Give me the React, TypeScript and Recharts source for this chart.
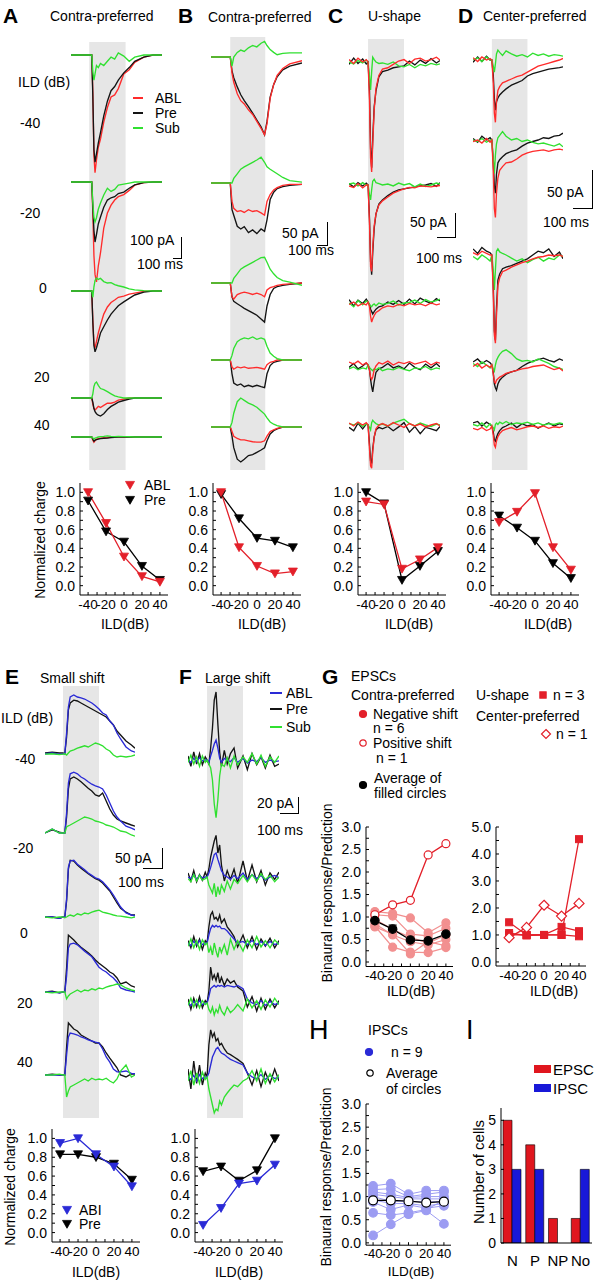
import React from "react";
import { LineChart, Line, XAxis, YAxis, ReferenceArea, ErrorBar, BarChart, Bar } from "recharts";

const FONT = '"Liberation Sans", Arial, Helvetica, sans-serif';
const TR_RED = "#ff2b2b";
const TR_GREEN = "#30e030";
const TR_BLACK = "#141414";
const TR_BLUE = "#2a2ad6";
const RED = "#e3202a";
const PINK = "#f29090";
const LBLUE = "#9c9cf2";
const BAND = "#e6e6e6";

// ---------- trace data (pA, baseline 0; stimulus window = 0..100 ms) ----------
const T_A = [-50, -25, 0, 7, 10, 13, 16, 20, 25, 31, 40, 50, 60, 70, 80, 95, 110, 125, 150, 175, 200];
const A_PRE = [
  [0, 0, 0, 0, -200, -450, -510, -470, -420, -370, -290, -220, -170, -150, -120, -85, -60, -30, -10, 0, 0],
  [0, 0, 0, 0, -120, -230, -286, -250, -200, -167, -120, -86, -75, -70, -55, -48, -30, -14, -3, 0, 0],
  [0, 0, 0, 0, -150, -260, -290, -270, -240, -200, -170, -138, -110, -90, -70, -52, -35, -19, -5, 0, 0],
  [0, 0, 0, 0, -20, -50, -65, -75, -82, -86, -75, -55, -40, -30, -20, -12, -5, 0, 0, 0, 0],
  [0, 0, 0, 0, -10, -20, -15, -12, -10, -8, -6, -5, -3, -2, 0, 0, 0, 0, 0, 0, 0],
];
const A_ABL = [
  [0, 0, 0, 0, -180, -480, -560, -500, -440, -400, -320, -250, -200, -190, -160, -90, -70, -35, -10, 0, 0],
  [0, 0, 0, 0, -150, -350, -440, -476, -400, -338, -220, -148, -110, -86, -70, -60, -40, -15, -3, 0, 0],
  [0, 0, 0, 0, -140, -250, -271, -240, -200, -162, -110, -76, -55, -43, -30, -24, -15, -10, -2, 0, 0],
  [0, 0, 0, 0, -30, -50, -57, -50, -40, -45, -35, -25, -25, -20, -10, -5, 0, 0, 0, 0, 0],
  [0, 0, 0, 0, -15, -25, -18, -10, -8, -5, -4, -3, 0, 0, 0, 0, 0, 0, 0, 0, 0],
];
const A_SUB = [
  [0, 0, 0, 0, -80, -120, -90, -50, -60, -40, -50, -30, -10, -20, 10, -5, -30, -10, 0, 0, 0],
  [0, 0, 0, 0, -100, -170, -190, -170, -130, -100, -62, -30, -45, -35, -15, -10, -5, 0, 0, 0, 0],
  [0, 0, 0, 0, -30, 20, 50, 62, 55, 60, 45, 38, 40, 30, 25, 19, 10, 5, 2, 0, 0],
  [0, 0, 0, 0, 20, 55, 70, 76, 60, 45, 40, 30, 20, 10, 5, 0, 0, 0, 0, 0, 0],
  [0, 0, 0, 0, -5, -10, -5, -3, 0, 2, 3, 5, 3, 2, 3, 2, 1, 0, 0, 0, 0],
];

const T_B = [-55, -25, 0, 5, 10, 20, 30, 40, 52, 64, 76, 88, 98, 105, 114, 124, 134, 150, 170, 205];
const B_PRE = [
  [0, 0, 0, -30, -45, -65, -82, -95, -108, -122, -137, -152, -169, -140, -87, -60, -43, -28, -20, -13],
  [0, 0, 0, -58, -70, -94, -100, -95, -108, -102, -110, -100, -105, -80, -36, -20, -12, -8, -5, -3],
  [0, 0, 0, -30, -40, -45, -50, -55, -60, -65, -70, -78, -85, -50, -25, -12, -8, -5, -3, 0],
  [0, 0, 0, -30, -50, -55, -52, -58, -55, -58, -55, -58, -60, -30, -12, -5, -3, 0, 0, 0],
  [0, 0, 0, -20, -45, -70, -76, -70, -62, -60, -55, -50, -45, -30, -15, -8, -4, 0, 0, 0],
];
const B_ABL = [
  [0, 0, 0, -35, -55, -80, -95, -102, -115, -125, -140, -155, -169, -145, -90, -60, -40, -25, -15, -8],
  [0, 0, 0, -40, -55, -62, -60, -64, -58, -62, -60, -65, -70, -40, -25, -15, -10, -5, -3, -3],
  [0, 0, 0, -30, -35, -25, -22, -20, -22, -25, -22, -25, -30, -15, -10, -8, -5, -3, -2, 0],
  [0, 0, 0, -15, -20, -15, -17, -15, -18, -17, -16, -18, -20, -10, -5, -3, 0, 0, 0, 0],
  [0, 0, 0, -10, -20, -25, -28, -28, -30, -32, -33, -33, -30, -20, -10, -6, -3, 0, 0, 0],
];
const B_SUB = [
  [0, 0, 0, -20, 0, 10, 15, 12, 20, 25, 22, 30, 34, 25, 16, 10, 5, 8, 9, 9],
  [0, 0, 0, 0, 10, 20, 30, 35, 40, 45, 50, 56, 45, 35, 30, 25, 20, 12, 5, 2],
  [0, 0, 0, 0, 10, 20, 30, 35, 40, 45, 50, 55, 56, 45, 30, 20, 12, 5, 2, -5],
  [0, 0, 0, 10, 25, 40, 45, 48, 46, 50, 45, 48, 45, 30, 15, 8, 3, 0, 0, 0],
  [0, 0, 0, 10, 30, 55, 63, 58, 52, 48, 43, 35, 28, 20, 11, 6, 3, 0, 0, 0],
];

const T_CD = [-53, -40, -28, -15, -5, 0, 4, 7, 10, 13, 17, 22, 30, 40, 55, 70, 85, 100, 115, 130, 145, 160, 175, 190, 200];
const C_PRE = [
  [-5, 8, -3, 6, -4, 0, -60, -180, -220, -160, -94, -60, -31, -20, -17, -12, -10, -8, 2, -6, 4, -3, 7, -2, 3],
  [3, -4, 5, -2, 4, 0, -70, -160, -187, -140, -90, -60, -40, -31, -22, -15, -10, -8, -6, -4, -2, 0, 3, -3, 5],
  [5, -8, 4, -3, 6, 0, -5, -15, -20, -25, -20, -15, -10, -8, 0, -5, 3, -5, 6, -4, 8, 2, -3, 7, 2],
  [-5, 3, -8, -2, 4, 0, -10, -30, -45, -56, -35, -15, -8, -5, 3, -6, -2, -8, 4, -5, -10, 2, -6, 3, -4],
  [-5, -12, 4, -8, 2, 0, -40, -75, -80, -50, -25, -10, -5, -8, -3, -12, -4, 5, -15, -3, -18, -5, -8, -12, -3],
];
const C_ABL = [
  [5, -3, 8, 0, 5, 0, -80, -200, -229, -170, -100, -55, -28, -15, -12, -5, 2, 5, -3, 6, 8, 2, 5, 10, 4],
  [-2, -5, 3, -6, 0, 0, -80, -170, -180, -130, -85, -60, -42, -33, -25, -17, -12, -8, -5, -6, -2, -3, -4, -2, -1],
  [-5, 0, -8, -3, -6, 0, -10, -30, -42, -35, -28, -22, -18, -12, -8, -10, -5, -8, -3, -6, -4, -8, -2, -6, -4],
  [6, 2, 8, 0, 5, 0, -10, -25, -30, -25, -10, -2, 5, 2, 8, 0, 6, 3, 7, 2, 5, 8, 0, 6, 4],
  [4, -2, 6, 0, 5, 0, -50, -85, -90, -55, -25, -8, 0, 3, -2, 5, 0, -5, 3, -2, 2, -4, 0, 3, -2],
];
const C_SUB = [
  [0, -4, 3, -2, 4, 0, -30, -58, -20, 10, 5, 0, -3, -2, -5, 0, -8, -10, -5, -12, -5, -8, -3, -6, -4],
  [2, 4, -2, 5, 0, 0, -20, -31, -10, 8, 12, 5, 3, 0, 2, -2, 4, 0, 3, -4, 2, -3, 0, 4, 2],
  [-2, -10, 3, -6, 2, 0, -5, -8, -10, -6, -4, -8, -2, -5, -3, 2, -6, -2, -1, 4, -3, 5, 0, 3, 6],
  [-8, -4, -10, -6, -8, 0, -5, -8, -10, -12, -8, -10, -6, -12, -8, -10, -5, -9, -12, -6, -8, -3, -10, -6, -8],
  [3, 0, 5, -3, 2, 0, -5, -10, 5, 10, 6, 3, 0, 2, -2, 4, 8, 12, 3, -2, 4, 0, -3, 2, 0],
];
const D_PRE = [
  [-3, 4, -2, 5, 0, 0, -20, -50, -66, -55, -50, -46, -42, -38, -33, -30, -27, -21, -18, -16, -14, -12, -11, -10, -9],
  [2, -3, 5, 0, 3, 0, -30, -60, -70, -45, -30, -26, -22, -18, -15, -13, -8, -4, -2, 0, 3, 2, 5, 6, 9],
  [8, 2, 10, 5, 3, 0, -40, -100, -112, -70, -33, -25, -18, -16, -14, -11, -8, -5, 0, 5, 3, 8, -2, 4, -5],
  [4, 8, 2, 6, 3, 0, -10, -25, -30, -33, -25, -20, -16, -12, -9, -7, -2, 2, 5, 7, 9, 6, 4, 8, 6],
  [4, 6, 0, 5, 2, 0, -8, -18, -20, -15, -10, -6, -2, 0, 4, -2, 3, 0, 2, -3, 1, 4, 0, 3, 2],
];
const D_ABL = [
  [3, -2, 4, 0, 2, 0, -30, -70, -82, -55, -40, -35, -30, -28, -25, -22, -20, -16, -12, -8, -6, -4, -2, 0, 2],
  [-2, 0, -4, 2, -3, 0, -40, -90, -102, -70, -50, -40, -35, -30, -29, -25, -20, -17, -15, -14, -13, -15, -13, -12, -13],
  [3, 0, 5, 2, 0, 0, -50, -105, -116, -80, -40, -30, -22, -20, -16, -13, -10, -8, -5, -3, -2, 0, -1, 0, -2],
  [-2, 2, -4, 0, -3, 0, -12, -22, -24, -20, -18, -16, -14, -11, -9, -7, -5, -4, -2, -1, 0, -3, -6, -4, -8],
  [-3, -5, -2, -6, -4, 0, -12, -25, -28, -20, -14, -10, -6, -4, -2, -5, -3, -1, 0, -2, 0, -3, -1, -2, 0],
];
const D_SUB = [
  [0, 3, -2, 4, 0, 0, -8, -16, -5, 8, 13, 10, 6, 12, 8, 5, 7, 4, 9, 6, 8, 5, 7, 6, 5],
  [0, -2, 2, -3, 0, 0, -25, -44, -20, -5, 3, 6, 11, 5, 0, 2, -2, 0, -3, -5, -4, -6, -8, -5, -9],
  [-2, -6, 0, -4, -8, 0, -20, -46, -20, 5, 8, 4, 2, 0, -4, -8, -5, -10, -6, -3, -8, -4, -6, 0, -2],
  [2, -2, 4, 0, -4, 0, -5, -8, 0, 6, 10, 14, 18, 20, 15, 8, 5, 6, 4, 8, 5, 2, -2, -4, -6],
  [2, 0, 4, -2, 3, 0, -2, -5, 2, 4, 2, 5, 3, 6, 2, 4, 3, 5, 2, 4, 1, 3, 2, 4, 3],
];

const T_E = [-50, -30, -10, 0, 5, 10, 15, 20, 30, 40, 50, 60, 70, 80, 90, 100, 110, 120, 130, 140, 150, 160, 175, 190, 200];
const E_PRE = [
  [0, 2, 0, 0, -2, 40, 108, 125, 132, 130, 125, 120, 115, 110, 105, 100, 95, 90, 80, 70, 55, 45, 30, 20, 12],
  [0, 8, 2, 0, 0, 40, 110, 135, 140, 135, 128, 120, 112, 105, 95, 92, 100, 80, 60, 45, 35, 30, 25, 20, 17],
  [0, 0, -3, 0, 0, 40, 120, 142, 140, 130, 122, 115, 108, 102, 96, 92, 85, 75, 65, 50, 35, 22, 12, 5, 5],
  [0, 2, -2, 0, 0, 60, 142, 138, 130, 120, 112, 105, 98, 90, 80, 72, 65, 58, 50, 45, 35, 20, 25, 15, 12],
  [0, 2, 0, 0, 0, 70, 130, 125, 115, 110, 100, 95, 90, 85, 80, 80, 70, 55, 42, 30, 18, 0, -5, 3, 2],
];
const E_ABL = [
  [-2, 0, -3, -2, -2, 50, 115, 140, 145, 140, 138, 135, 130, 125, 118, 110, 100, 95, 80, 70, 50, 35, 15, 5, 2],
  [0, 10, 0, 0, 0, 50, 125, 148, 152, 148, 140, 135, 128, 122, 118, 115, 110, 95, 75, 55, 40, 30, 17, 12, 8],
  [0, 0, -3, 0, 0, 45, 125, 140, 142, 132, 125, 118, 110, 104, 98, 95, 88, 78, 68, 55, 40, 25, 10, 5, 3],
  [0, 0, -2, 0, 0, 40, 110, 120, 122, 118, 110, 102, 95, 88, 75, 62, 55, 50, 42, 35, 25, 10, 5, 2, 0],
  [0, 0, 0, 0, 0, 50, 95, 105, 103, 100, 95, 92, 88, 85, 82, 80, 65, 45, 32, 15, 8, 8, 10, 4, 3],
];
const E_SUB = [
  [-3, -2, -4, -3, -2, -5, 0, 5, 8, 12, 15, 18, 15, 20, 25, 22, 18, 10, 5, -5, -10, -8, -10, -8, -5],
  [0, 10, 0, 0, 0, 15, 18, 20, 25, 30, 35, 40, 38, 35, 30, 28, 25, 20, 18, 15, 10, 5, 2, -5, -8],
  [0, -2, 0, 0, -2, 0, 3, 5, 2, 8, 5, 10, 8, 12, 15, 17, 12, 10, 8, 5, 3, 2, 0, -2, 0],
  [0, -2, 0, 0, 0, -17, -10, -5, 0, 5, 0, 5, 3, 8, 5, 10, 8, 12, 15, 17, 20, 18, 10, 5, 3],
  [0, 0, 2, 0, 0, -55, -40, -30, -25, -20, -15, -10, -15, -8, -12, -10, -12, -8, -15, -20, -10, 10, 25, -5, 0],
];

const T_F = [-53, -45, -37, -29, -21, -13, -5, 0, 5, 10, 15, 20, 25, 30, 35, 40, 48, 56, 65, 75, 85, 100, 112, 125, 138, 150, 162, 175, 188, 200];
const F_PRE = [
  [5, -8, 10, -5, 8, -6, 4, 0, -5, 15, 40, 75, 85, 45, 10, -8, 12, -5, 8, 15, -10, 5, -12, 8, -6, 4, -10, 6, -8, -5],
  [5, -5, 8, -6, 3, -4, 6, 0, 10, 25, 35, 45, 52, 30, 40, 15, -5, 8, -3, 10, -8, 20, -5, 15, -6, 8, -10, 5, -3, 6],
  [3, -6, 8, -4, 5, -8, 3, 0, 20, 35, 39, 30, 32, 28, 35, 25, 30, 20, 15, 8, -5, 10, -6, 8, -8, 5, -4, 6, -6, 3],
  [5, -8, 6, -5, 8, -6, 3, 0, 15, 45, 30, 35, 28, 38, 25, 32, 22, 30, 25, 28, 20, 15, -5, 8, -10, 6, -8, 5, -6, 3],
  [10, -15, 20, -8, 15, -10, 5, 0, 40, 59, 50, 55, 45, 48, 40, 42, 35, 30, 28, 25, 22, 17, 5, -10, 8, -12, 6, -8, 10, -5],
];
const F_ABL = [
  [0, -3, 2, -2, 3, -1, 0, 0, -3, 5, 12, 20, 25, 15, 2, -3, 2, 0, -2, 3, -3, 2, -4, 0, -2, 3, -3, 0, -2, -1],
  [0, -2, 3, -3, 2, -1, 0, 0, 5, 12, 20, 28, 30, 22, 15, 8, 2, 0, -3, 2, -2, 5, -3, 3, -2, 2, -4, 0, 2, -1],
  [0, -3, 2, -2, 3, -2, 0, 0, 10, 18, 22, 20, 22, 20, 21, 18, 18, 15, 10, 5, 0, 2, -2, 3, -2, 2, -3, 2, -2, 0],
  [0, -3, 2, -2, 3, -2, 0, 0, 8, 18, 20, 22, 20, 22, 21, 22, 20, 22, 21, 20, 22, 18, 5, 0, -2, 3, -3, 2, -2, 0],
  [0, -3, 2, -5, 3, -2, 0, 0, 5, 15, 25, 30, 35, 37, 33, 30, 28, 25, 22, 20, 18, 15, 5, 0, -2, 3, -3, 2, -2, 0],
];
const F_SUB = [
  [-3, 6, -5, 4, -8, 5, -3, 0, -5, -10, -25, -55, -72, -50, -20, -5, -8, 3, -10, 5, -6, 4, -3, 8, -5, 6, -8, 4, -3, 5],
  [-2, -6, 3, -5, 2, -4, -2, 0, -10, -15, -20, -8, -25, -12, -22, -10, -18, -5, -15, -3, -8, 2, -6, 3, -5, 4, -3, 2, -6, 0],
  [-4, 5, -6, 3, -8, 4, -2, 0, -12, -5, -15, 0, -10, -18, -5, -12, -2, -15, 5, -8, 3, -10, 4, -6, 8, -5, 3, -6, 4, -2],
  [-3, 6, -5, 4, -6, 3, -2, 0, -8, -12, -5, -15, -8, -12, -3, -10, -15, -5, -12, -8, -2, -10, 5, -6, 3, -8, 4, -5, 6, -2],
  [-5, 8, -10, 5, -8, 6, -3, 0, -15, -25, -35, -45, -40, -42, -30, -35, -25, -20, -15, -10, -12, -5, -2, 8, -5, 10, -8, 4, -6, 3],
];

// ---------- normalized charge vs ILD ----------
const ILD = [-40, -20, 0, 20, 40];
const A_ABL_Q = [1.0, 0.67, 0.31, 0.1, 0.04];
const A_PRE_Q = [0.91, 0.58, 0.47, 0.21, 0.06];
const B_ABL_Q = [1.0, 0.41, 0.21, 0.13, 0.15];
const B_PRE_Q = [0.98, 0.72, 0.51, 0.48, 0.41];
const C_ABL_Q = [0.9, 0.87, 0.18, 0.28, 0.41];
const C_PRE_Q = [1.0, 0.88, 0.06, 0.21, 0.37];
const D_ABL_Q = [0.68, 0.79, 0.99, 0.41, 0.17];
const D_PRE_Q = [0.75, 0.62, 0.48, 0.24, 0.08];
const E_ABL_Q = [0.95, 1.0, 0.83, 0.7, 0.49];
const E_PRE_Q = [0.83, 0.83, 0.8, 0.73, 0.56];
const F_ABL_Q = [0.08, 0.26, 0.52, 0.55, 0.72];
const F_PRE_Q = [0.65, 0.7, 0.55, 0.66, 1.0];

// ---------- binaural response / prediction ----------
const G_NEG = [
  [1.12, 1.08, 0.98, 0.65, 0.87],
  [1.05, 1.02, 0.62, 0.58, 0.75],
  [0.95, 0.72, 0.55, 0.42, 0.6],
  [0.85, 0.6, 0.45, 0.38, 0.5],
  [0.8, 0.33, 0.22, 0.21, 0.32],
  [0.78, 0.62, 0.18, 0.45, 0.36],
];
const G_POS = [1.05, 1.27, 1.37, 2.38, 2.63];
const G_AVG = [0.92, 0.73, 0.49, 0.47, 0.62];
const G_ERR = [0.07, 0.09, 0.08, 0.07, 0.09];
const G_USHAPE = [
  [1.47, 1.0, 1.0, 1.0, 4.55],
  [1.07, 0.98, 1.0, 1.3, 1.14],
  [1.0, 1.0, 1.0, 1.0, 0.95],
];
const G_CENTER = [0.9, 1.28, 2.1, 1.7, 2.17];

const H_CELLS = [
  [1.23, 1.28, 1.05, 1.13, 1.13],
  [1.15, 1.17, 1.0, 1.05, 1.1],
  [1.1, 1.05, 0.98, 1.0, 1.0],
  [1.05, 1.0, 0.95, 0.95, 0.95],
  [1.0, 0.9, 0.9, 0.88, 0.9],
  [0.93, 0.85, 0.85, 0.8, 0.85],
  [0.88, 0.72, 0.82, 0.75, 0.8],
  [0.65, 0.6, 0.65, 0.72, 0.92],
  [0.16, 0.4, 0.62, 0.7, 0.41],
];
const H_AVG = [0.92, 0.92, 0.9, 0.87, 0.89];
const H_ERR = [0.09, 0.1, 0.06, 0.07, 0.07];

const I_CATS = ["N", "P", "NP", "No"];
const I_EPSC = [5, 4, 1, 1];
const I_IPSC = [3, 3, 0, 3];

// ---------- ticks ----------
const Q_TICKS = [0, 0.1, 0.2, 0.3, 0.4, 0.5, 0.6, 0.7, 0.8, 0.9, 1.0];
const Q_LABELED = [0, 0.2, 0.4, 0.6, 0.8, 1.0];
const ILD_TICKS = [-40, -30, -20, -10, 0, 10, 20, 30, 40];
const ILD_LABELED = [-40, -20, 0, 20, 40];
const G_TICKS = [0, 0.25, 0.5, 0.75, 1, 1.25, 1.5, 1.75, 2, 2.25, 2.5, 2.75, 3];
const G_LABELED = [0, 0.5, 1, 1.5, 2, 2.5, 3];
const G2_TICKS = [0, 0.5, 1, 1.5, 2, 2.5, 3, 3.5, 4, 4.5, 5];
const G2_LABELED = [0, 1, 2, 3, 4, 5];
const I_TICKS = [0, 1, 2, 3, 4, 5];

const qFmt = (v: number) => (Q_LABELED.includes(v) ? v.toFixed(1) : "");
const ildFmt = (v: number) => (ILD_LABELED.includes(v) ? String(v) : "");
const gFmt = (v: number) => (G_LABELED.includes(v) ? v.toFixed(1) : "");
const g2Fmt = (v: number) => (G2_LABELED.includes(v) ? v.toFixed(1) : "");

// ---------- layout of trace columns ----------
type Series = { rows: number[][]; color: string };
type Col = { left: number; width: number; dom: [number, number]; time: number[]; pApx: number; band: [number, number]; base: number[]; series: Series[] };

const COLS: Col[] = [
  { left: 71, width: 91, dom: [-50, 200], time: T_A, pApx: 100 / 21, band: [42, 470], base: [55, 182, 291, 398, 437],
    series: [{ rows: A_ABL, color: TR_RED }, { rows: A_PRE, color: TR_BLACK }, { rows: A_SUB, color: TR_GREEN }] },
  { left: 211, width: 91, dom: [-55, 205], time: T_B, pApx: 50 / 23, band: [37, 470], base: [57, 183, 283, 360, 427],
    series: [{ rows: B_PRE, color: TR_BLACK }, { rows: B_ABL, color: TR_RED }, { rows: B_SUB, color: TR_GREEN }] },
  { left: 349, width: 91, dom: [-53, 200], time: T_CD, pApx: 50 / 24, band: [39, 470], base: [62, 185, 302, 365, 425],
    series: [{ rows: C_PRE, color: TR_BLACK }, { rows: C_SUB, color: TR_GREEN }, { rows: C_ABL, color: TR_RED }] },
  { left: 473, width: 90, dom: [-53, 200], time: T_CD, pApx: 50 / 38, band: [39, 470], base: [60, 140, 255, 365, 426],
    series: [{ rows: D_PRE, color: TR_BLACK }, { rows: D_SUB, color: TR_GREEN }, { rows: D_ABL, color: TR_RED }] },
  { left: 45, width: 90, dom: [-50, 200], time: T_E, pApx: 50 / 20, band: [686, 1118], base: [753, 833, 917, 992, 1075],
    series: [{ rows: E_PRE, color: TR_BLACK }, { rows: E_ABL, color: TR_BLUE }, { rows: E_SUB, color: TR_GREEN }] },
  { left: 188, width: 91, dom: [-53, 200], time: T_F, pApx: 20 / 16, band: [686, 1118], base: [760, 877, 943, 1003, 1077],
    series: [{ rows: F_PRE, color: TR_BLACK }, { rows: F_ABL, color: TR_BLUE }, { rows: F_SUB, color: TR_GREEN }] },
];

const NOM = { top: 0, right: 0, bottom: 0, left: 0 };

function Band({ col }: { col: Col }) {
  const data = col.time.map((t) => ({ t }));
  return (
    <div style={{ position: "absolute", left: col.left, top: col.band[0] }}>
      <LineChart width={col.width} height={col.band[1] - col.band[0]} data={data} margin={NOM}>
        <XAxis dataKey="t" type="number" domain={col.dom} hide allowDataOverflow />
        <YAxis type="number" domain={[0, 1]} hide allowDataOverflow />
        <ReferenceArea x1={0} x2={100} y1={0} y2={1} fill={BAND} fillOpacity={1} stroke="none" />
      </LineChart>
    </div>
  );
}

function TraceRow({ col, row }: { col: Col; row: number }) {
  const up = 80;
  const down = 130;
  const data = col.time.map((t, i) => {
    const o: any = { t };
    col.series.forEach((s, k) => (o["s" + k] = s.rows[row][i]));
    return o;
  });
  return (
    <div style={{ position: "absolute", left: col.left, top: col.base[row] - up }}>
      <LineChart width={col.width} height={up + down} data={data} margin={NOM}>
        <XAxis dataKey="t" type="number" domain={col.dom} hide allowDataOverflow />
        <YAxis type="number" domain={[-down * col.pApx, up * col.pApx]} hide allowDataOverflow />
        {col.series.map((s, k) => (
          <Line key={k} type="linear" dataKey={"s" + k} stroke={s.color} strokeWidth={1.35} dot={false} isAnimationActive={false} />
        ))}
      </LineChart>
    </div>
  );
}

// ---------- markers ----------
function shape(kind: string, cx: number, cy: number, fill: string, stroke: string, size: number, key?: string) {
  if (cx == null || cy == null) return <g key={key} />;
  if (kind === "tri")
    return <path key={key} d={`M${cx - size},${cy - size * 0.8}L${cx + size},${cy - size * 0.8}L${cx},${cy + size * 0.95}Z`} fill={fill} stroke={stroke} strokeWidth={0.8} />;
  if (kind === "sq") return <rect key={key} x={cx - size} y={cy - size} width={size * 2} height={size * 2} fill={fill} stroke={stroke} />;
  if (kind === "dia")
    return <path key={key} d={`M${cx},${cy - size}L${cx + size},${cy}L${cx},${cy + size}L${cx - size},${cy}Z`} fill={fill} stroke={stroke} strokeWidth={1.2} />;
  return <circle key={key} cx={cx} cy={cy} r={size} fill={fill} stroke={stroke} strokeWidth={1.2} />;
}
const dotFn = (kind: string, fill: string, stroke: string, size: number) => (p: any) =>
  shape(kind, p.cx, p.cy, fill, stroke, size, `${kind}-${p.index}`);

function Marker({ x, y, kind, fill, stroke, size }: { x: number; y: number; kind: string; fill: string; stroke: string; size: number }) {
  return (
    <svg style={{ position: "absolute", left: x - 8, top: y - 8, overflow: "visible" }} width={16} height={16}>
      {shape(kind, 8, 8, fill, stroke, size)}
    </svg>
  );
}

// ---------- small xy plot with Origin-like axes (ticks point inward) ----------
const ML = 40, MT = 10, MR = 10, MB = 30;
type PlotProps = {
  x: number; y: number; w: number; h: number;
  xDomain: [number, number]; yDomain: [number, number];
  yTicks: number[]; yFmt: (v: number) => string; xFont?: number;
  data: any[]; children: React.ReactNode;
};
function Plot({ x, y, w, h, xDomain, yDomain, yTicks, yFmt, xFont = 13.5, data, children }: PlotProps) {
  return (
    <div style={{ position: "absolute", left: x - ML, top: y - MT }}>
      <LineChart width={w + ML + MR} height={h + MT + MB} data={data} margin={{ top: MT, right: MR, bottom: 0, left: 0 }}>
        <XAxis dataKey="x" type="number" domain={xDomain} allowDataOverflow ticks={ILD_TICKS} tickFormatter={ildFmt}
          interval={0} height={MB} tickSize={-3} tickMargin={7} stroke="#000" tick={{ fill: "#000", fontSize: xFont }} />
        <YAxis type="number" domain={yDomain} allowDataOverflow ticks={yTicks} tickFormatter={yFmt}
          interval={0} width={ML} tickSize={-3} tickMargin={8} stroke="#000" tick={{ fill: "#000", fontSize: 14 }} />
        {children}
      </LineChart>
    </div>
  );
}

function QPlot({ x, y, h, a, p, aColor }: { x: number; y: number; h: number; a: number[]; p: number[]; aColor: string }) {
  const data = ILD.map((v, i) => ({ x: v, a: a[i], p: p[i] }));
  return (
    <Plot x={x} y={y} w={88} h={h} xDomain={[-49, 49]} yDomain={[-0.1, 1.1]} yTicks={Q_TICKS} yFmt={qFmt} data={data}>
      <Line dataKey="p" stroke="#000" strokeWidth={1.3} dot={dotFn("tri", "#000", "#000", 4.5)} isAnimationActive={false} />
      <Line dataKey="a" stroke={aColor} strokeWidth={1.3} dot={dotFn("tri", aColor, aColor, 4.5)} isAnimationActive={false} />
    </Plot>
  );
}

function Txt({ x, y, children, size = 14, bold = false, anchor = "start", rotate = false }: any) {
  const tx = anchor === "middle" ? "-50%" : anchor === "end" ? "-100%" : "0";
  return (
    <div style={{ position: "absolute", left: x, top: y, transform: rotate ? "translate(-50%,-50%) rotate(-90deg)" : `translate(${tx},-50%)`,
      fontSize: size, fontWeight: bold ? 700 : 400, whiteSpace: "nowrap", lineHeight: 1, color: "#000" }}>
      {children}
    </div>
  );
}

function ScaleBar({ x0, x1, y0, y1 }: { x0: number; x1: number; y0: number; y1: number }) {
  return <div style={{ position: "absolute", left: x0, top: y0, width: x1 - x0, height: y1 - y0, borderRight: "1.3px solid #000", borderBottom: "1.3px solid #000" }} />;
}

function Swatch({ x, y, w, color, h = 1.6 }: { x: number; y: number; w: number; color: string; h?: number }) {
  return <div style={{ position: "absolute", left: x, top: y - h / 2, width: w, height: h, background: color }} />;
}

export default function App() {
  const gLeft = ILD.map((v, i) => {
    const o: any = { x: v, pos: G_POS[i], avg: G_AVG[i], err: G_ERR[i] };
    G_NEG.forEach((r, k) => (o["n" + k] = r[i]));
    return o;
  });
  const gRight = ILD.map((v, i) => {
    const o: any = { x: v, c: G_CENTER[i] };
    G_USHAPE.forEach((r, k) => (o["u" + k] = r[i]));
    return o;
  });
  const hData = ILD.map((v, i) => {
    const o: any = { x: v, avg: H_AVG[i], err: H_ERR[i] };
    H_CELLS.forEach((r, k) => (o["h" + k] = r[i]));
    return o;
  });
  const iData = I_CATS.map((c, i) => ({ cat: c, epsc: I_EPSC[i], ipsc: I_IPSC[i] }));

  return (
    <div style={{ position: "absolute", left: 0, top: 0, width: 596, height: 1280, background: "#fff", fontFamily: FONT, overflow: "hidden" }}>
      {COLS.map((c, i) => <Band key={"b" + i} col={c} />)}
      {COLS.map((c, i) => c.base.map((_, r) => <TraceRow key={`r${i}-${r}`} col={c} row={r} />))}

      {/* panel titles */}
      <Txt x={3} y={15} size={21} bold>A</Txt>
      <Txt x={50} y={16}>Contra-preferred</Txt>
      <Txt x={178} y={15} size={21} bold>B</Txt>
      <Txt x={208} y={17}>Contra-preferred</Txt>
      <Txt x={328} y={15} size={21} bold>C</Txt>
      <Txt x={368} y={16}>U-shape</Txt>
      <Txt x={458} y={15} size={21} bold>D</Txt>
      <Txt x={483} y={16}>Center-preferred</Txt>

      {/* A labels */}
      <Txt x={18} y={82}>ILD (dB)</Txt>
      <Txt x={20} y={123}>-40</Txt>
      <Txt x={20} y={213}>-20</Txt>
      <Txt x={39} y={288}>0</Txt>
      <Txt x={34} y={377}>20</Txt>
      <Txt x={34} y={425}>40</Txt>
      <Swatch x={133} y={98} w={10} color={TR_RED} />
      <Swatch x={133} y={113} w={10} color={TR_BLACK} />
      <Swatch x={133} y={128} w={10} color={TR_GREEN} />
      <Txt x={155} y={98}>ABL</Txt>
      <Txt x={155} y={113}>Pre</Txt>
      <Txt x={155} y={128}>Sub</Txt>

      {/* scale bars */}
      <ScaleBar x0={173} x1={181} y0={237} y1={258} />
      <Txt x={130} y={240}>100 pA</Txt>
      <Txt x={137} y={264}>100 ms</Txt>
      <ScaleBar x0={317} x1={327} y0={222} y1={245} />
      <Txt x={282} y={233}>50 pA</Txt>
      <Txt x={288} y={250}>100 ms</Txt>
      <ScaleBar x0={437} x1={455} y0={213} y1={237} />
      <Txt x={410} y={222}>50 pA</Txt>
      <Txt x={416} y={258}>100 ms</Txt>
      <ScaleBar x0={573} x1={592} y0={170} y1={208} />
      <Txt x={547} y={192}>50 pA</Txt>
      <Txt x={543} y={222}>100 ms</Txt>

      {/* normalized charge A-D */}
      <QPlot x={80} y={483} h={112} a={A_ABL_Q} p={A_PRE_Q} aColor={RED} />
      <QPlot x={213} y={483} h={112} a={B_ABL_Q} p={B_PRE_Q} aColor={RED} />
      <QPlot x={358} y={483} h={112} a={C_ABL_Q} p={C_PRE_Q} aColor={RED} />
      <QPlot x={491} y={483} h={112} a={D_ABL_Q} p={D_PRE_Q} aColor={RED} />
      <Txt x={40} y={540} rotate>Normalized charge</Txt>
      <Marker x={130} y={485} kind="tri" fill={RED} stroke={RED} size={4.5} />
      <Marker x={130} y={500} kind="tri" fill="#000" stroke="#000" size={4.5} />
      <Txt x={144} y={485}>ABL</Txt>
      <Txt x={144} y={500}>Pre</Txt>
      <Txt x={125} y={624} anchor="middle">ILD(dB)</Txt>
      <Txt x={262} y={624} anchor="middle">ILD(dB)</Txt>
      <Txt x={409} y={624} anchor="middle">ILD(dB)</Txt>
      <Txt x={548} y={624} anchor="middle">ILD(dB)</Txt>

      {/* E / F */}
      <Txt x={5} y={676} size={21} bold>E</Txt>
      <Txt x={40} y={678}>Small shift</Txt>
      <Txt x={179} y={676} size={21} bold>F</Txt>
      <Txt x={205} y={678}>Large shift</Txt>
      <Txt x={1} y={718}>ILD (dB)</Txt>
      <Txt x={15} y={759}>-40</Txt>
      <Txt x={13} y={848}>-20</Txt>
      <Txt x={20} y={933}>0</Txt>
      <Txt x={17} y={1003}>20</Txt>
      <Txt x={17} y={1062}>40</Txt>
      <ScaleBar x0={143} x1={162} y0={848} y1={868} />
      <Txt x={115} y={858}>50 pA</Txt>
      <Txt x={118} y={882}>100 ms</Txt>
      <ScaleBar x0={280} x1={298} y0={797} y1={813} />
      <Txt x={257} y={803}>20 pA</Txt>
      <Txt x={257} y={830}>100 ms</Txt>
      <Swatch x={270} y={693} w={12} color={TR_BLUE} />
      <Swatch x={270} y={709} w={12} color={TR_BLACK} />
      <Swatch x={270} y={727} w={12} color={TR_GREEN} />
      <Txt x={286} y={693}>ABL</Txt>
      <Txt x={286} y={709}>Pre</Txt>
      <Txt x={286} y={727}>Sub</Txt>

      <QPlot x={52} y={1129} h={113} a={E_ABL_Q} p={E_PRE_Q} aColor={TR_BLUE} />
      <QPlot x={195} y={1129} h={113} a={F_ABL_Q} p={F_PRE_Q} aColor={TR_BLUE} />
      <Txt x={10} y={1187} rotate>Normalized charge</Txt>
      <Marker x={67} y={1210} kind="tri" fill={TR_BLUE} stroke={TR_BLUE} size={4.5} />
      <Marker x={67} y={1224} kind="tri" fill="#000" stroke="#000" size={4.5} />
      <Txt x={79} y={1210}>ABI</Txt>
      <Txt x={79} y={1224}>Pre</Txt>
      <Txt x={96} y={1272} anchor="middle">ILD(dB)</Txt>
      <Txt x={239} y={1272} anchor="middle">ILD(dB)</Txt>

      {/* G */}
      <Txt x={322} y={676} size={21} bold>G</Txt>
      <Txt x={351} y={676}>EPSCs</Txt>
      <Txt x={351} y={695}>Contra-preferred</Txt>
      <Marker x={363} y={714} kind="circle" fill={RED} stroke={RED} size={3.5} />
      <Txt x={373} y={714}>Negative shift</Txt>
      <Txt x={373} y={728}>n = 6</Txt>
      <Marker x={363} y={743} kind="circle" fill="#fff" stroke={RED} size={3.2} />
      <Txt x={373} y={743}>Positive shift</Txt>
      <Txt x={376} y={758}>n = 1</Txt>
      <Marker x={363} y={785} kind="circle" fill="#000" stroke="#000" size={3.5} />
      <Txt x={374} y={778}>Average of</Txt>
      <Txt x={374} y={793}>filled circles</Txt>
      <Txt x={476} y={695}>U-shape</Txt>
      <Marker x={543} y={695} kind="sq" fill={RED} stroke={RED} size={3.2} />
      <Txt x={553} y={695}>n = 3</Txt>
      <Txt x={476} y={716}>Center-preferred</Txt>
      <Marker x={546} y={734} kind="dia" fill="#fff" stroke={RED} size={4.5} />
      <Txt x={556} y={734}>n = 1</Txt>

      <Plot x={366} y={827} w={87} h={139.5} xDomain={[-50, 48]} yDomain={[-0.1, 3.0]} yTicks={G_TICKS} yFmt={gFmt} data={gLeft}>
        {G_NEG.map((_, k) => (
          <Line key={"n" + k} dataKey={"n" + k} stroke={PINK} strokeWidth={1.2} dot={dotFn("circle", PINK, PINK, 4)} isAnimationActive={false} />
        ))}
        <Line dataKey="pos" stroke={RED} strokeWidth={1.3} dot={dotFn("circle", "#fff", RED, 4)} isAnimationActive={false} />
        <Line dataKey="avg" stroke="#000" strokeWidth={1.3} dot={dotFn("circle", "#000", "#000", 4.2)} isAnimationActive={false}>
          <ErrorBar dataKey="err" width={4} stroke="#000" strokeWidth={1.2} direction="y" />
        </Line>
      </Plot>
      <Plot x={496} y={827} w={90} h={139} xDomain={[-55, 48]} yDomain={[-0.15, 5.0]} yTicks={G2_TICKS} yFmt={g2Fmt} data={gRight}>
        {G_USHAPE.map((_, k) => (
          <Line key={"u" + k} dataKey={"u" + k} stroke={RED} strokeWidth={1.3} dot={dotFn("sq", RED, RED, 3.5)} isAnimationActive={false} />
        ))}
        <Line dataKey="c" stroke={RED} strokeWidth={1.3} dot={dotFn("dia", "#fff", RED, 5)} isAnimationActive={false} />
      </Plot>
      <Txt x={327} y={893} rotate>Binaural response/Prediction</Txt>
      <Txt x={411} y={991} anchor="middle">ILD(dB)</Txt>
      <Txt x={554} y={991} anchor="middle">ILD(dB)</Txt>

      {/* H */}
      <Txt x={309} y={1030} size={27}>H</Txt>
      <Txt x={368} y={1030}>IPSCs</Txt>
      <Marker x={369} y={1052} kind="circle" fill={TR_BLUE} stroke={TR_BLUE} size={3.5} />
      <Txt x={391} y={1052}>n = 9</Txt>
      <Marker x={370} y={1073} kind="circle" fill="#fff" stroke="#000" size={3.2} />
      <Txt x={386} y={1073}>Average</Txt>
      <Txt x={386} y={1089}>of circles</Txt>
      <Plot x={366} y={1104} w={85} h={141.2} xDomain={[-48, 48]} yDomain={[-0.05, 3.0]} yTicks={G_TICKS} yFmt={gFmt} xFont={13} data={hData}>
        {H_CELLS.map((_, k) => (
          <Line key={"h" + k} dataKey={"h" + k} stroke={LBLUE} strokeWidth={1} dot={dotFn("circle", LBLUE, LBLUE, 4.3)} isAnimationActive={false} />
        ))}
        <Line dataKey="avg" stroke="#000" strokeWidth={1.3} dot={dotFn("circle", "#fff", "#000", 4.5)} isAnimationActive={false}>
          <ErrorBar dataKey="err" width={4} stroke="#000" strokeWidth={1.2} direction="y" />
        </Line>
      </Plot>
      <Txt x={326} y={1177} rotate>Binaural response/Prediction</Txt>
      <Txt x={411} y={1272} anchor="middle" size={13.5}>ILD(dB)</Txt>

      {/* I */}
      <Txt x={466} y={1030} size={27}>I</Txt>
      <div style={{ position: "absolute", left: 534, top: 1065, width: 17, height: 8, background: "#e0161e" }} />
      <div style={{ position: "absolute", left: 534, top: 1084, width: 17, height: 8, background: "#1818d8" }} />
      <Txt x={553} y={1069} size={15}>EPSC</Txt>
      <Txt x={553} y={1088} size={15}>IPSC</Txt>
      <div style={{ position: "absolute", left: 501 - ML, top: 1108 - MT }}>
        <BarChart width={91 + ML + MR} height={135 + MT + MB} data={iData} margin={{ top: MT, right: MR, bottom: 0, left: 0 }} barGap={0}>
          <XAxis dataKey="cat" interval={0} height={MB} tickLine={false} tickMargin={6} stroke="#000" tick={{ fill: "#000", fontSize: 15 }} />
          <YAxis type="number" domain={[0, 5.5]} allowDataOverflow ticks={I_TICKS} interval={0} width={ML} tickSize={-3} tickMargin={8}
            stroke="#000" tick={{ fill: "#000", fontSize: 14 }} />
          <Bar dataKey="epsc" fill="#e0161e" stroke="#000" strokeWidth={0.6} barSize={9} isAnimationActive={false} />
          <Bar dataKey="ipsc" fill="#1818d8" stroke="#000" strokeWidth={0.6} barSize={9} isAnimationActive={false} />
        </BarChart>
      </div>
      <Txt x={478} y={1172} rotate size={15}>Number of cells</Txt>
    </div>
  );
}
